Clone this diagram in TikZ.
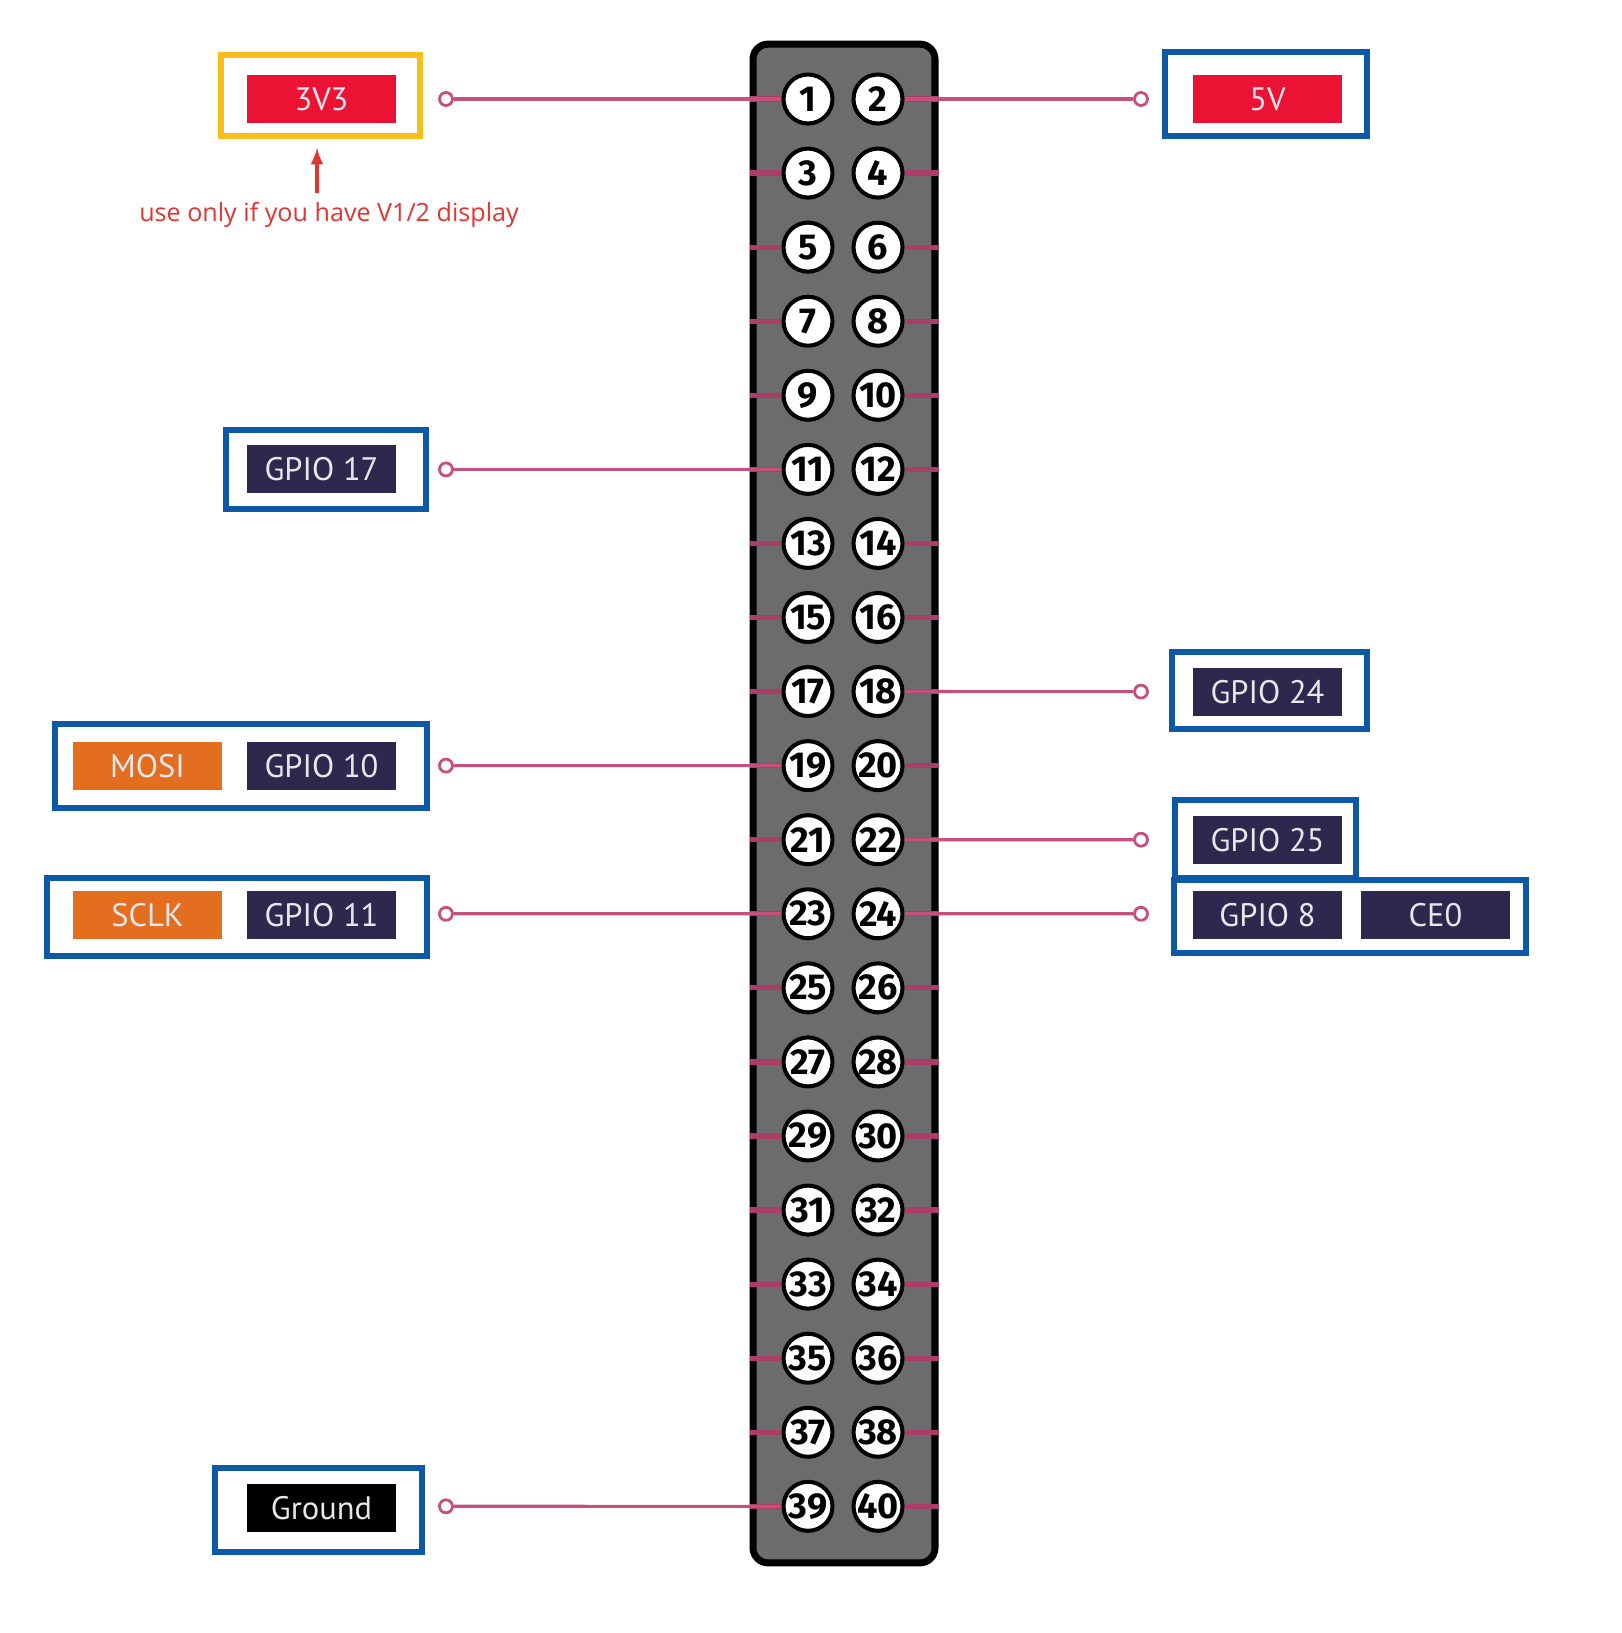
\documentclass[tikz,border=0pt]{standalone}
\usepackage{fontspec}
\setmainfont{PT Sans}
\newfontfamily\notefont{Open Sans}
\newfontfamily\pinfont{Fira Sans}
\usetikzlibrary{shapes,arrows,positioning,calc}

\definecolor{wirepink}{RGB}{198,80,124}
\definecolor{stubpink}{RGB}{170,62,104}
\definecolor{boxblue}{RGB}{14,88,168}
\definecolor{boxyellow}{RGB}{248,190,28}
\definecolor{pwrred}{RGB}{236,18,52}
\definecolor{gpionavy}{RGB}{47,40,78}
\definecolor{spiorange}{RGB}{228,110,32}
\definecolor{hdrgray}{RGB}{108,108,108}
\definecolor{notered}{RGB}{226,52,48}
\definecolor{labeltext}{RGB}{232,232,236}

\begin{document}
\begin{tikzpicture}[x=0.02cm, y=-0.02cm,
    header/.style={rectangle, rounded corners=0.3cm, draw=black, line width=4pt, fill=hdrgray, minimum width=3.64cm, minimum height=30.38cm},
    pin/.style={circle, draw=black, line width=2.3pt, fill=white, minimum size=0.98cm, inner sep=0pt, font=\pinfont\bfseries\fontsize{20.5}{20.5}\selectfont},
    jack/.style={circle, draw=wirepink, line width=1.6pt, fill=white, minimum size=0.26cm, inner sep=0pt},
    frame/.style={rectangle, draw=boxblue, line width=3.4pt, inner sep=0pt},
    tag/.style={rectangle, minimum width=2.98cm, minimum height=0.96cm, inner sep=0pt, text=labeltext, font=\fontsize{18.5}{18.5}\selectfont},
    wire/.style={draw=wirepink, line width=1.8pt},
    stub/.style={draw=stubpink, line width=3pt},
    note/.style={text=notered, font=\notefont\fontsize{14.3}{14.3}\selectfont},
    arrow/.style={->, >=latex, line width=2.2pt, draw=notered}]

% Page with the reference margins
\fill[white] (0,0) rectangle (1622,1633);
\useasboundingbox (0,0) rectangle (1622,1633);

% The 40 pin header
\node[header] (hdr) at (844,803.5) {};

\foreach \r in {0,...,19} {
    \pgfmathtruncatemacro{\odd}{2*\r+1}
    \pgfmathtruncatemacro{\even}{2*\r+2}
    \pgfmathsetmacro{\yy}{99+74.07*\r}
    \node[pin] (p\odd) at (808,\yy) {\odd};
    \node[pin] (p\even) at (878,\yy) {\even};
    \draw[stub] (hdr.west |- p\odd) -- (p\odd.west);
    \draw[stub] (hdr.east |- p\even) -- (p\even.east);
}

% Jacks at the ends of the wires
\node[jack] (j1) at (446,99) {};
\node[jack] (j2) at (1141,99) {};
\node[jack] (j11) at (446,469.4) {};
\node[jack] (j18) at (1141,691.6) {};
\node[jack] (j19) at (446,765.6) {};
\node[jack] (j22) at (1141,839.7) {};
\node[jack] (j23) at (446,913.8) {};
\node[jack] (j24) at (1141,913.8) {};
\node[jack] (j39) at (446,1506.3) {};

\foreach \k in {1,2,11,18,19,22,23,24,39}
    \draw[wire] (j\k) -- (p\k);

% Left side labels
\node[frame, draw=boxyellow, minimum width=3.98cm, minimum height=1.62cm] (f3v3) at (320.5,95.5) {};
\node[tag, fill=pwrred] (t3v3) at (321.5,99) {3V3};

\node[frame, minimum width=4cm, minimum height=1.58cm] (fg17) at (326,469.5) {};
\node[tag, fill=gpionavy] (tg17) at (321.5,469) {GPIO 17};

\node[frame, minimum width=7.44cm, minimum height=1.68cm] (fmosi) at (241,766) {};
\node[tag, fill=spiorange] (tmosi) at (147.5,766) {MOSI};
\node[tag, fill=gpionavy] (tg10) at (321.5,766) {GPIO 10};

\node[frame, minimum width=7.6cm, minimum height=1.56cm] (fsclk) at (237,917) {};
\node[tag, fill=spiorange] (tsclk) at (147.5,915) {SCLK};
\node[tag, fill=gpionavy] (tg11) at (321.5,915) {GPIO 11};

\node[frame, minimum width=4.14cm, minimum height=1.68cm] (fgnd) at (318.5,1510) {};
\node[tag, fill=black] (tgnd) at (321.5,1508) {Ground};

% Right side labels
\node[frame, minimum width=4.04cm, minimum height=1.68cm] (f5v) at (1266,94) {};
\node[tag, fill=pwrred] (t5v) at (1267.5,99) {5V};

\node[frame, minimum width=3.9cm, minimum height=1.54cm] (fg24) at (1269.5,690.5) {};
\node[tag, fill=gpionavy] (tg24) at (1267.5,692) {GPIO 24};

\node[frame, minimum width=3.62cm, minimum height=1.56cm] (fg25) at (1265.5,839) {};
\node[tag, fill=gpionavy] (tg25) at (1267.5,840) {GPIO 25};

\node[frame, minimum width=7.04cm, minimum height=1.46cm] (fg8) at (1350,916.5) {};
\node[tag, fill=gpionavy] (tg8) at (1267.5,915) {GPIO 8};
\node[tag, fill=gpionavy] (tce0) at (1435.5,915) {CE0};

% Note under the 3V3 label
\node[note] (hint) at (329,215) {use only if you have V1/2 display};
\coordinate (foot) at (317,193);
\draw[arrow, shorten >=5pt] (foot) -- (foot |- f3v3.south);

\end{tikzpicture}
\end{document}
